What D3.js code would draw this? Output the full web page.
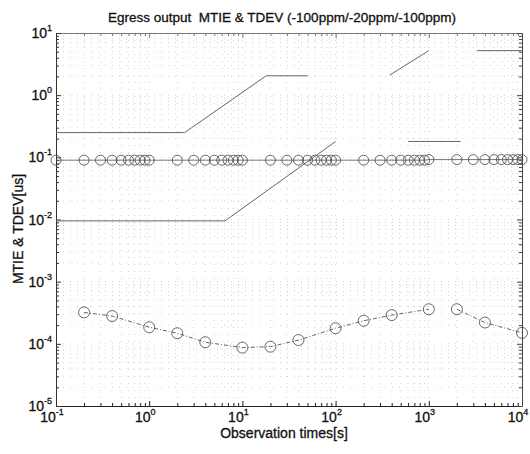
<!DOCTYPE html>
<html>
<head>
<meta charset="utf-8">
<script src="https://cdn.jsdelivr.net/npm/d3@7"></script>
<style>
  body { margin: 0; background: #fff; }
  text { font-family: "Liberation Sans", Arial, sans-serif; fill: #111; stroke: #111; stroke-width: 0.3px; white-space: pre; }
</style>
</head>
<body>
<svg id="ch" width="530" height="454"></svg>
<script>
// MTIE & TDEV log-log plot

// observation times of the measured MTIE (1..9 per decade)
const mtieTau = [
  0.1, 0.2, 0.3, 0.4, 0.5, 0.6, 0.7, 0.8, 0.9,
  1, 2, 3, 4, 5, 6, 7, 8, 9,
  10, 20, 30, 40, 50, 60, 70, 80, 90,
  100, 200, 300, 400, 500, 600, 700, 800, 900,
  1000, 2000, 3000, 4000, 5000, 6000, 7000, 8000, 9000, 10000
];
const mtieVal = [
  0.09, 0.09, 0.09, 0.09, 0.09, 0.09, 0.09, 0.09, 0.09,
  0.09, 0.09, 0.09, 0.09, 0.09, 0.09, 0.09, 0.09, 0.09,
  0.09, 0.09, 0.09, 0.09, 0.09, 0.09, 0.09, 0.09, 0.09,
  0.09, 0.09, 0.09, 0.09, 0.09, 0.09, 0.09, 0.09, 0.09,
  0.092, 0.092, 0.092, 0.092, 0.092, 0.092, 0.092, 0.092, 0.092, 0.092
];

// measured TDEV (two runs, drawn dash-dot)
const tdevTau1 = [0.2, 0.4, 1, 2, 4, 10, 20, 40, 100, 200, 400, 1000];
const tdevVal1 = [3.2e-4, 2.8e-4, 1.85e-4, 1.48e-4, 1.06e-4, 8.7e-5, 9.0e-5, 1.15e-4, 1.78e-4, 2.35e-4, 2.9e-4, 3.6e-4];
const tdevTau2 = [2000, 4000, 10000];
const tdevVal2 = [3.6e-4, 2.2e-4, 1.5e-4];

// MTIE masks, as the visible pieces in the scan (null = break)
const maskHiTau = [0.1, 2.4, 18, 50, null, 380, 1000, null, 3300, 10000];
const maskHiVal = [0.25, 0.25, 2.05, 2.05, null, 2.1, 5.2, null, 5.2, 5.2];
const maskLoTau = [0.1, 6.5, 100, null, 600, 2200];
const maskLoVal = [0.0095, 0.0095, 0.18, null, 0.18, 0.18];

const xTicks = [0.1, 1, 10, 100, 1000, 10000];
const xExp = ["-1", "0", "1", "2", "3", "4"];
const yTicks = [1e-5, 1e-4, 1e-3, 1e-2, 1e-1, 1, 10];
const yExp = ["-5", "-4", "-3", "-2", "-1", "0", "1"];

const pL = 56, pR = 522, pT = 33, pB = 406;

const svg = d3.select("#ch");

const x = d3.scaleLog().domain([0.1, 10000]).range([pL, pR]);
const y = d3.scaleLog().domain([1e-5, 10]).range([pB, pT]);

/* minor + major values */
const xAll = [];
for (let e = -1; e < 4; e++) for (let m = 1; m < 10; m++) xAll.push(m * Math.pow(10, e));
xAll.push(10000);
const yAll = [];
for (let e = -5; e < 1; e++) for (let m = 1; m < 10; m++) yAll.push(m * Math.pow(10, e));
yAll.push(10);

/* grid - sparse dotted like the scan */
const grid = svg.append("g")
  .attr("stroke", "#999")
  .attr("stroke-width", 0.8)
  .attr("stroke-dasharray", "1,6")
  .attr("opacity", 0.55);
grid.selectAll(".gx").data(xAll.slice(1, -1)).enter().append("line")
  .attr("x1", d => x(d)).attr("x2", d => x(d))
  .attr("y1", pT).attr("y2", pB);
grid.selectAll(".gy").data(yAll.slice(1, -1)).enter().append("line")
  .attr("y1", d => y(d)).attr("y2", d => y(d))
  .attr("x1", pL).attr("x2", pR);

/* axes with inner ticks on all sides */
const isMajor = d => Math.abs(Math.log10(d) - Math.round(Math.log10(d))) < 1e-9;
const tk = d => isMajor(d) ? 5 : 3;

svg.append("g").attr("transform", `translate(0,${pB})`)
  .call(d3.axisBottom(x).tickValues(xAll).tickSize(0).tickFormat(""))
  .call(g => g.selectAll(".tick line").attr("y2", d => -tk(d)).attr("stroke", "#222"))
  .call(g => g.select(".domain").attr("stroke", "#222"));
svg.append("g").attr("transform", `translate(0,${pT})`)
  .call(d3.axisTop(x).tickValues(xAll).tickSize(0).tickFormat(""))
  .call(g => g.selectAll(".tick line").attr("y2", d => tk(d)).attr("stroke", "#777"))
  .call(g => g.select(".domain").attr("stroke", "#777"));
svg.append("g").attr("transform", `translate(${pL},0)`)
  .call(d3.axisLeft(y).tickValues(yAll).tickSize(0).tickFormat(""))
  .call(g => g.selectAll(".tick line").attr("x2", d => tk(d)).attr("stroke", "#333"))
  .call(g => g.select(".domain").attr("stroke", "#333"));
svg.append("g").attr("transform", `translate(${pR},0)`)
  .call(d3.axisRight(y).tickValues(yAll).tickSize(0).tickFormat(""))
  .call(g => g.selectAll(".tick line").attr("x2", d => -tk(d)).attr("stroke", "#444"))
  .call(g => g.select(".domain").attr("stroke", "#444"));

/* tick labels 10^n */
const xl = svg.selectAll(".xl").data(xTicks).enter().append("text")
  .attr("x", d => x(d) - 4).attr("y", pB + 16)
  .attr("text-anchor", "middle").style("font-size", "14px");
xl.append("tspan").text("10");
xl.append("tspan").attr("dy", -7).style("font-size", "9px").text((d, i) => xExp[i]);

const yl = svg.selectAll(".yl").data(yTicks).enter().append("text")
  .attr("x", pL - 4).attr("y", d => y(d) + 5)
  .attr("text-anchor", "end").style("font-size", "14px");
yl.append("tspan").text("10");
yl.append("tspan").attr("dy", -7).style("font-size", "9px").text((d, i) => yExp[i]);

/* masks */
const maskLine = d3.line()
  .defined(d => d[0] !== null)
  .x(d => x(d[0])).y(d => y(d[1]));
svg.append("path").datum(maskHiTau.map((t, i) => [t, maskHiVal[i]]))
  .attr("d", maskLine).attr("fill", "none").attr("stroke", "#666").attr("stroke-width", 1);
svg.append("path").datum(maskLoTau.map((t, i) => [t, maskLoVal[i]]))
  .attr("d", maskLine).attr("fill", "none").attr("stroke", "#666").attr("stroke-width", 1);

/* measured MTIE */
const line = d3.line().x(d => x(d[0])).y(d => y(d[1]));
const mtie = mtieTau.map((t, i) => [t, mtieVal[i]]);
svg.append("path").datum(mtie).attr("d", line)
  .attr("fill", "none").attr("stroke", "#555").attr("stroke-width", 0.8);
svg.selectAll(".cm").data(mtie).enter().append("circle")
  .attr("cx", d => x(d[0])).attr("cy", d => y(d[1])).attr("r", 5)
  .attr("fill", "none").attr("stroke", "#444").attr("stroke-width", 0.8);

/* measured TDEV */
[[tdevTau1, tdevVal1], [tdevTau2, tdevVal2]].forEach(([tt, vv]) => {
  const pts = tt.map((t, i) => [t, vv[i]]);
  svg.append("path").datum(pts).attr("d", line)
    .attr("fill", "none").attr("stroke", "#555").attr("stroke-width", 0.9)
    .attr("stroke-dasharray", "4,2,1,2");
  svg.selectAll(null).data(pts).enter().append("circle")
    .attr("cx", d => x(d[0])).attr("cy", d => y(d[1])).attr("r", 5.5)
    .attr("fill", "none").attr("stroke", "#444").attr("stroke-width", 0.8);
});

/* titles */
svg.append("text").attr("x", 282).attr("y", 22).attr("text-anchor", "middle")
  .style("font-size", "13.5px")
  .text("Egress output  MTIE & TDEV (-100ppm/-20ppm/-100ppm)");
svg.append("text").attr("x", 284).attr("y", 438).attr("text-anchor", "middle")
  .style("font-size", "14px").text("Observation times[s]");
svg.append("text").attr("transform", "translate(23,229) rotate(-90)")
  .attr("text-anchor", "middle").style("font-size", "14px").text("MTIE & TDEV[us]");
</script>
</body>
</html>
